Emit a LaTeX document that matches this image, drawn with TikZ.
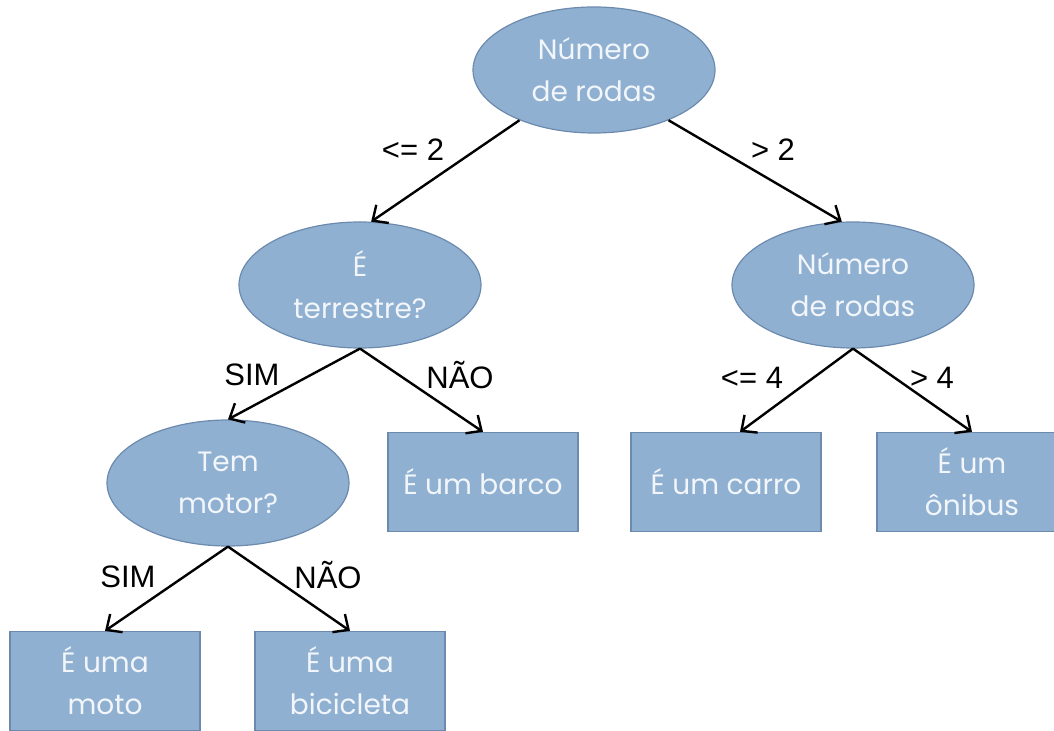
\documentclass[tikz,border=0pt]{standalone}
\usepackage{fontspec}
\setmainfont{Poppins}
\newfontfamily\arial{Liberation Sans}
\usepackage{xcolor}
\definecolor{nodeblue}{RGB}{143,176,209}
\definecolor{nodeedge}{RGB}{108,138,174}
\definecolor{nodetext}{RGB}{242,246,250}
\usetikzlibrary{shapes.geometric,arrows.meta}

\tikzset{
  question/.style={ellipse, fill=nodeblue, draw=nodeedge, line width=0.6pt,
    minimum width=121pt, minimum height=63pt, inner sep=0pt, align=center,
    text=nodetext, font=\fontsize{14}{21}\selectfont},
  answer/.style={rectangle, fill=nodeblue, draw=nodeedge, line width=0.6pt,
    minimum width=95pt, minimum height=49.5pt, inner sep=0pt, align=center,
    text=nodetext, font=\fontsize{14}{21}\selectfont},
  branch/.style={draw, line width=1.2pt, -{Straight Barb[length=6pt,width=11pt]}},
  cond/.style={font=\arial\fontsize{15.5}{17}\selectfont}
}

\begin{document}
\begin{tikzpicture}[x=0.5pt,y=-0.5pt]
  \useasboundingbox (0,0) rectangle (1054,731);

  \node[question] (root) at (594,70) {Número\\de rodas};
  \node[question] (terr) at (360,285) {É\\terrestre?};
  \node[question] (rodas) at (853,285) {Número\\de rodas};
  \node[question] (motor) at (228,483) {Tem\\motor?};

  \node[answer] (barco) at (483,482) {É um barco};
  \node[answer] (carro) at (726,482) {É um carro};
  \node[answer] (onibus) at (972,482) {É um\\ônibus};
  \node[answer] (moto) at (105,681) {É uma\\moto};
  \node[answer] (bici) at (350,681) {É uma\\bicicleta};

  \path[branch] (root.214) -- (terr.80);
  \path[branch] (root.326) -- (rodas.100);
  \path[branch] (terr.south) -- (motor.north);
  \path[branch] (terr.south) -- (barco.north);
  \path[branch] (rodas.south) -- ([xshift=7pt]carro.north);
  \path[branch] (rodas.south) -- (onibus.north);
  \path[branch] (motor.south) -- (moto.north);
  \path[branch] (motor.south) -- (bici.north);

  \node[cond] (le2) at (413,150) {<= 2};
  \node[cond] (gt2) at (773,150) {> 2};
  \node[cond] (sim1) at (252,375) {SIM};
  \node[cond] (nao1) at (460,375) {NÃO};
  \node[cond] (le4) at (752,378) {<= 4};
  \node[cond] (gt4) at (932,378) {> 4};
  \node[cond] (sim2) at (128,577) {SIM};
  \node[cond] (nao2) at (328,575) {NÃO};
\end{tikzpicture}
\end{document}
